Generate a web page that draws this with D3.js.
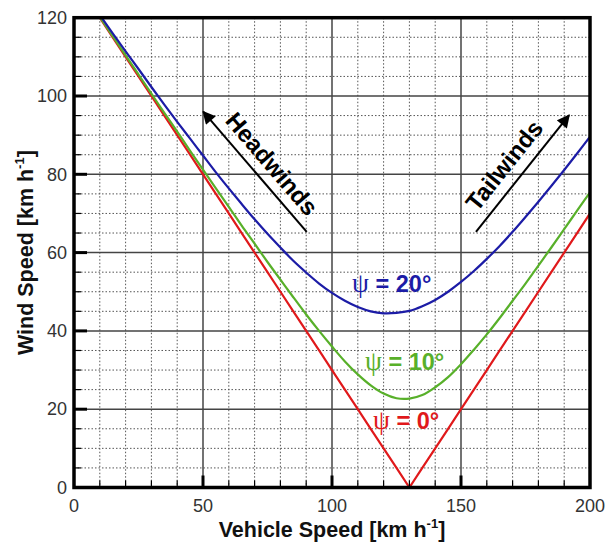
<!DOCTYPE html>
<html>
<head>
<meta charset="utf-8">
<script src="https://cdn.jsdelivr.net/npm/d3@7"></script>
<style>
  body { margin: 0; background: #fff; }
  text { font-family: "Liberation Sans", Arial, sans-serif; }
</style>
</head>
<body>
<div id="chart"></div>
<script>
// vehicle speed samples (km/h)
var speeds = [10, 15, 20, 25, 30, 35, 40, 45, 50, 55, 60, 65, 70, 75, 80, 85, 90, 95, 100,
  105, 110, 115, 120, 125, 130, 135, 140, 145, 150, 155, 160, 165, 170, 175, 180, 185, 190, 195, 200];

// wind speed (km/h)
var psi0 = [120, 115, 110, 105, 100, 95, 90, 85, 80, 75, 70, 65, 60, 55, 50, 45, 40, 35, 30,
  25, 20, 15, 10, 5, 0, 5, 10, 15, 20, 25, 30, 35, 40, 45, 50, 55, 60, 65, 70];
var psi10 = [120.2, 115.3, 110.4, 105.5, 100.6, 95.7, 90.9, 86.0, 81.2, 76.4, 71.7, 66.9, 62.3, 57.6, 53.1, 48.6, 44.2, 40.0, 36.0,
  32.2, 28.9, 26.1, 24.0, 22.8, 22.7, 23.6, 25.6, 28.2, 31.5, 35.2, 39.1, 43.3, 47.7, 52.1, 56.7, 61.3, 66.0, 70.7, 75.4];
var psi20 = [120.7, 116.0, 111.4, 106.9, 102.3, 97.8, 93.4, 89.1, 84.8, 80.5, 76.4, 72.4, 68.5, 64.8, 61.3, 57.9, 54.9, 52.1, 49.7,
  47.7, 46.1, 45.0, 44.5, 44.6, 45.1, 46.3, 47.9, 50.0, 52.5, 55.3, 58.4, 61.7, 65.3, 69.1, 73.0, 77.0, 81.1, 85.3, 89.6];

var xTicks = [0, 50, 100, 150, 200];
var yTicks = [0, 20, 40, 60, 80, 100, 120];
var labels = ["ψ = 0°", "ψ = 10°", "ψ = 20°"];

var W = 606, H = 545;
var margin = { top: 17.7, right: 16, bottom: 57.5, left: 74 },
  width = W - margin.left - margin.right,
  height = H - margin.top - margin.bottom;

var svg = d3.select("#chart")
  .append("svg")
  .attr("width", W)
  .attr("height", H)
  .append("g")
  .attr("transform", "translate(" + margin.left + "," + margin.top + ")");

var x = d3.scaleLinear().domain([0, 200]).range([0, width]);
var y = d3.scaleLinear().domain([0, 120]).range([height, 0]);

// minor dotted grid
var xMinor = d3.range(10, 200, 10).filter(function (d) { return d % 50 != 0; });
var yMinor = d3.range(5, 120, 5).filter(function (d) { return d % 20 != 0; });

svg.selectAll(".vmin").data(xMinor).enter().append("line")
  .attr("x1", function (d) { return x(d); }).attr("x2", function (d) { return x(d); })
  .attr("y1", 0).attr("y2", height)
  .attr("stroke", "#555").attr("stroke-width", 1).attr("stroke-dasharray", "1.5,2");
svg.selectAll(".hmin").data(yMinor).enter().append("line")
  .attr("y1", function (d) { return y(d); }).attr("y2", function (d) { return y(d); })
  .attr("x1", 0).attr("x2", width)
  .attr("stroke", "#555").attr("stroke-width", 1).attr("stroke-dasharray", "1.5,2");

// major grid
svg.selectAll(".vmaj").data([50, 100, 150]).enter().append("line")
  .attr("x1", function (d) { return x(d); }).attr("x2", function (d) { return x(d); })
  .attr("y1", 0).attr("y2", height)
  .attr("stroke", "#444").attr("stroke-width", 1.5);
svg.selectAll(".hmaj").data([20, 40, 60, 80, 100]).enter().append("line")
  .attr("y1", function (d) { return y(d); }).attr("y2", function (d) { return y(d); })
  .attr("x1", 0).attr("x2", width)
  .attr("stroke", "#444").attr("stroke-width", 1.5);

// curves
svg.append("clipPath").attr("id", "clip")
  .append("rect").attr("width", width).attr("height", height);

var series = [
  { vals: psi0, color: "#e0191b", curve: d3.curveLinear },
  { vals: psi10, color: "#58b02a", curve: d3.curveCatmullRom },
  { vals: psi20, color: "#1c1ca6", curve: d3.curveCatmullRom }
];

series.forEach(function (s) {
  var line = d3.line()
    .x(function (d, i) { return x(speeds[i]); })
    .y(function (d) { return y(d); })
    .curve(s.curve);
  svg.append("path")
    .datum(s.vals)
    .attr("clip-path", "url(#clip)")
    .attr("fill", "none")
    .attr("stroke", s.color)
    .attr("stroke-width", 2.2)
    .attr("d", line);
});

// frame
svg.append("rect")
  .attr("width", width).attr("height", height)
  .attr("fill", "none").attr("stroke", "#000").attr("stroke-width", 3.5);

// ticks
svg.selectAll(".xt").data(xTicks.slice(1, -1)).enter().append("line")
  .attr("x1", function (d) { return x(d); }).attr("x2", function (d) { return x(d); })
  .attr("y1", height).attr("y2", height - 12)
  .attr("stroke", "#000").attr("stroke-width", 3);
svg.selectAll(".yt").data(yTicks.slice(1, -1)).enter().append("line")
  .attr("y1", function (d) { return y(d); }).attr("y2", function (d) { return y(d); })
  .attr("x1", 0).attr("x2", 13)
  .attr("stroke", "#000").attr("stroke-width", 3);
svg.selectAll(".xmt").data(xMinor).enter().append("line")
  .attr("x1", function (d) { return x(d); }).attr("x2", function (d) { return x(d); })
  .attr("y1", height).attr("y2", height - 7)
  .attr("stroke", "#000").attr("stroke-width", 1.2);
svg.selectAll(".ymt").data(yMinor).enter().append("line")
  .attr("y1", function (d) { return y(d); }).attr("y2", function (d) { return y(d); })
  .attr("x1", 0).attr("x2", 7)
  .attr("stroke", "#000").attr("stroke-width", 1.2);

// tick labels
svg.selectAll(".xl").data(xTicks).enter().append("text")
  .attr("x", function (d) { return x(d); })
  .attr("y", height + 25)
  .attr("text-anchor", "middle")
  .attr("font-size", 18).attr("fill", "#333")
  .text(function (d) { return d; });
svg.selectAll(".yl").data(yTicks).enter().append("text")
  .attr("x", -7)
  .attr("y", function (d) { return y(d); })
  .attr("dy", "0.35em")
  .attr("text-anchor", "end")
  .attr("font-size", 18).attr("fill", "#333")
  .text(function (d) { return d; });

// axis titles
var xt = svg.append("text")
  .attr("x", width / 2).attr("y", height + 49.5)
  .attr("text-anchor", "middle")
  .attr("font-size", 21.5).attr("font-weight", "bold").attr("fill", "#111");
xt.append("tspan").text("Vehicle Speed [km h");
xt.append("tspan").attr("font-size", 13).attr("dy", -9).text("-1");
xt.append("tspan").attr("dy", 9).text("]");

var yt = svg.append("text")
  .attr("transform", "translate(" + (-41) + "," + (height / 2) + ")rotate(-90)")
  .attr("text-anchor", "middle")
  .attr("font-size", 21.5).attr("font-weight", "bold").attr("fill", "#111");
yt.append("tspan").text("Wind Speed [km h");
yt.append("tspan").attr("font-size", 13).attr("dy", -9).text("-1");
yt.append("tspan").attr("dy", 9).text("]");

// curve labels
var labelPos = [[115.9, 14.9], [112.8, 30], [107.8, 49.9]];
var labelColors = ["#e0191b", "#58b02a", "#1c1ca6"];
labels.forEach(function (l, i) {
  var t = svg.append("text")
    .attr("x", x(labelPos[i][0])).attr("y", y(labelPos[i][1]))
    .attr("font-size", 23.5).attr("font-weight", "bold").attr("fill", labelColors[i]);
  t.append("tspan").attr("font-family", "Liberation Serif, serif").attr("font-weight", "normal")
    .attr("font-size", 27).text(l.slice(0, 1));
  t.append("tspan").text(l.slice(1));
});

// arrows
var defs = svg.append("defs");
defs.append("marker")
  .attr("id", "head").attr("viewBox", "0 0 10 10")
  .attr("refX", 9).attr("refY", 5)
  .attr("markerWidth", 7).attr("markerHeight", 6.5)
  .attr("markerUnits", "strokeWidth")
  .attr("orient", "auto")
  .append("path").attr("d", "M0,0L10,5L0,10Z").attr("fill", "#000");

var arrows = [
  { from: [90.2, 65.3], to: [50.1, 96], text: "Headwinds", perp: 18, along: 5 },
  { from: [155.8, 65.3], to: [191.9, 95.1], text: "Tailwinds", perp: 19.5, along: -5 }
];
arrows.forEach(function (a) {
  var x1 = x(a.from[0]), y1 = y(a.from[1]), x2 = x(a.to[0]), y2 = y(a.to[1]);
  svg.append("line")
    .attr("x1", x1).attr("y1", y1).attr("x2", x2).attr("y2", y2)
    .attr("stroke", "#000").attr("stroke-width", 2)
    .attr("marker-end", "url(#head)");
  // text reads left to right along the arrow
  var ang = Math.atan2(y2 - y1, x2 - x1) * 180 / Math.PI;
  if (ang > 90 || ang < -90) ang += 180;
  var r = ang * Math.PI / 180;
  var ux = Math.cos(r), uy = Math.sin(r);
  var px = Math.sin(r), py = -Math.cos(r);
  var cx = (x1 + x2) / 2 + px * a.perp + ux * a.along;
  var cy = (y1 + y2) / 2 + py * a.perp + uy * a.along;
  svg.append("text")
    .attr("transform", "translate(" + cx + "," + cy + ")rotate(" + ang + ")")
    .attr("text-anchor", "middle").attr("dy", "0.35em")
    .attr("font-size", 24).attr("font-weight", "bold").attr("fill", "#000")
    .text(a.text);
});
</script>
</body>
</html>
